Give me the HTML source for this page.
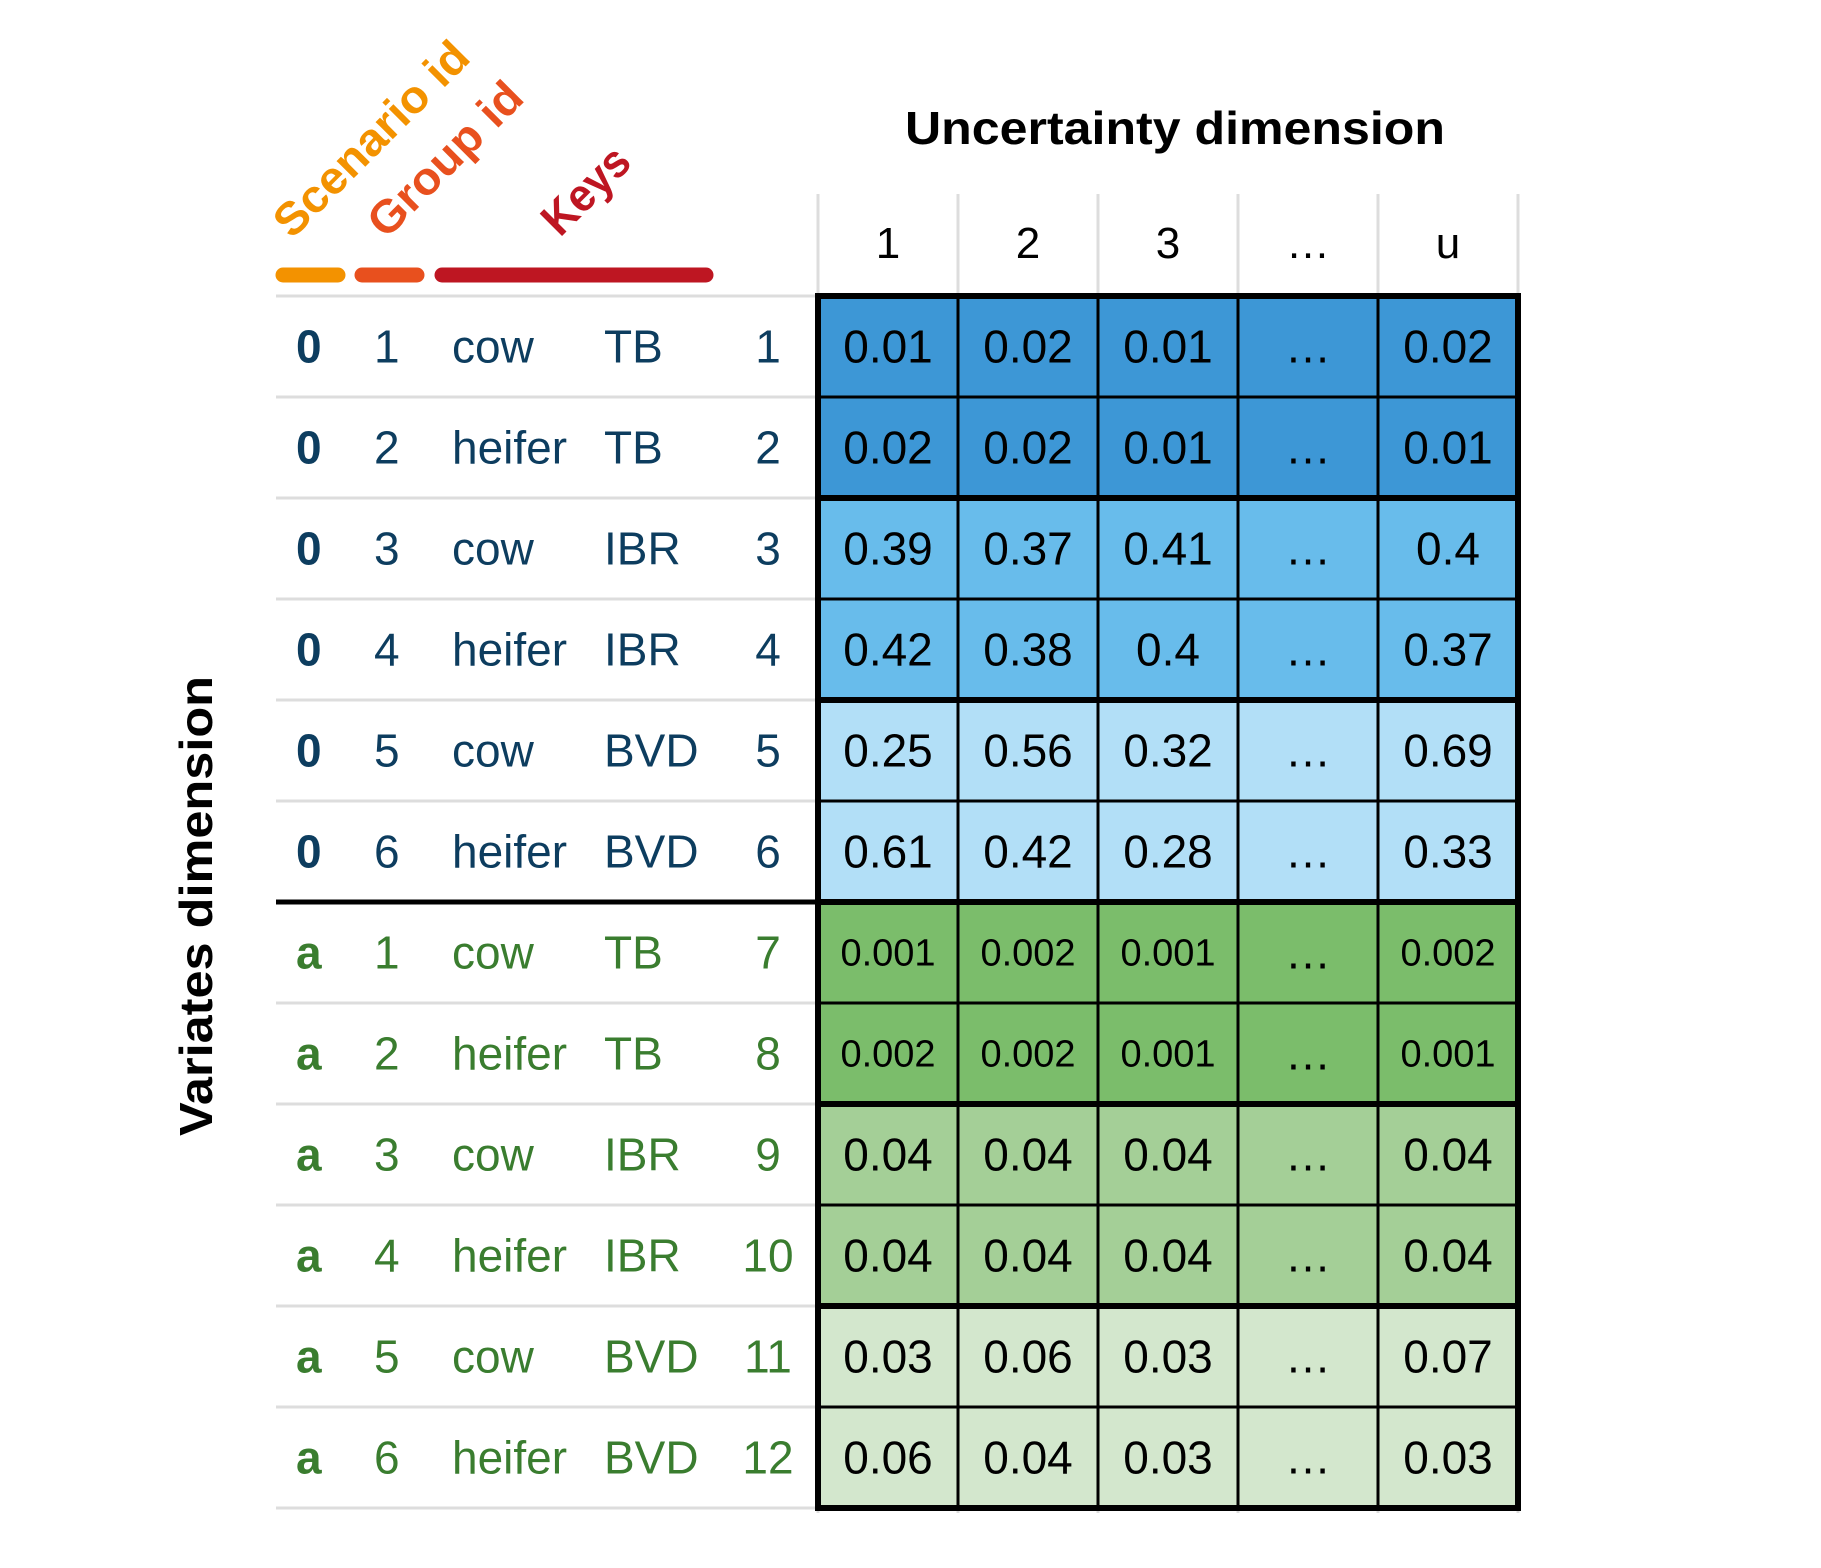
<!DOCTYPE html>
<html><head><meta charset="utf-8"><style>
html,body{margin:0;padding:0;background:#fff;}
svg{display:block;font-family:"Liberation Sans",sans-serif;}
</style></head><body>
<svg id="chart" width="1821" height="1568" viewBox="0 0 1821 1568" xmlns="http://www.w3.org/2000/svg">
<text x="1175" y="144" font-size="46" font-weight="bold" text-anchor="middle" textLength="540" lengthAdjust="spacingAndGlyphs">Uncertainty dimension</text>
<text transform="translate(212,906) rotate(-90)" font-size="46" font-weight="bold" text-anchor="middle" textLength="460" lengthAdjust="spacingAndGlyphs">Variates dimension</text>
<text transform="translate(292,240) rotate(-45)" font-size="46" font-weight="bold" fill="#f39200" textLength="255" lengthAdjust="spacingAndGlyphs">Scenario id</text>
<text transform="translate(386,240) rotate(-45)" font-size="46" font-weight="bold" fill="#e8501e" textLength="198" lengthAdjust="spacingAndGlyphs">Group id</text>
<text transform="translate(560,238) rotate(-45)" font-size="46" font-weight="bold" fill="#be1622" textLength="104" lengthAdjust="spacingAndGlyphs">Keys</text>
<line x1="283" y1="275" x2="338" y2="275" stroke="#f39200" stroke-width="15" stroke-linecap="round"/>
<line x1="362" y1="275" x2="417" y2="275" stroke="#e8501e" stroke-width="15" stroke-linecap="round"/>
<line x1="442" y1="275" x2="706" y2="275" stroke="#be1622" stroke-width="15" stroke-linecap="round"/>
<g id="layer"></g>
</svg>
<script>
const colLabels = ["1","2","3","…","u"];
const scenarios = ["0","0","0","0","0","0","a","a","a","a","a","a"];
const groupIds = ["1","2","3","4","5","6","1","2","3","4","5","6"];
const keyAnimal = ["cow","heifer","cow","heifer","cow","heifer","cow","heifer","cow","heifer","cow","heifer"];
const keyDisease = ["TB","TB","IBR","IBR","BVD","BVD","TB","TB","IBR","IBR","BVD","BVD"];
const rowIndex = ["1","2","3","4","5","6","7","8","9","10","11","12"];
const values = [
 ["0.01","0.02","0.01","…","0.02"],
 ["0.02","0.02","0.01","…","0.01"],
 ["0.39","0.37","0.41","…","0.4"],
 ["0.42","0.38","0.4","…","0.37"],
 ["0.25","0.56","0.32","…","0.69"],
 ["0.61","0.42","0.28","…","0.33"],
 ["0.001","0.002","0.001","…","0.002"],
 ["0.002","0.002","0.001","…","0.001"],
 ["0.04","0.04","0.04","…","0.04"],
 ["0.04","0.04","0.04","…","0.04"],
 ["0.03","0.06","0.03","…","0.07"],
 ["0.06","0.04","0.03","…","0.03"]
];
const groupFill = ["#3d97d6","#68bceb","#b2dff7","#7bbd6b","#a4cf97","#d3e7cd"];

const NS="http://www.w3.org/2000/svg";
const L=document.getElementById("layer");
const gx0=818, colW=140, gy0=296, rowH=101;
const xCol=j=>gx0+colW*j, yRow=i=>gy0+rowH*i;
const nR=values.length, nC=colLabels.length;
function mk(tag,a,parent){const e=document.createElementNS(NS,tag);for(const k in a)e.setAttribute(k,a[k]);(parent||L).appendChild(e);return e;}
function tx(s,a){const e=mk("text",a);e.textContent=s;return e;}

// header grey lines
for(let j=0;j<=nC;j++){
 const e=mk("line",{x1:xCol(j),x2:xCol(j),y1:194,y2:gy0+rowH*nR+5,stroke:"#dddddd","stroke-width":3});
 
 
}
colLabels.forEach((c,j)=>{
 const e=tx(c,{x:xCol(j)+colW/2,y:258,"font-size":44,"text-anchor":"middle"});
 
 
});
// row grey lines
for(let i=0;i<=nR;i++){
 const e=mk("line",{x1:276,x2:gx0,y1:yRow(i),y2:yRow(i),stroke:"#dddddd","stroke-width":3});
 
 
}
// cells
for(let i=0;i<nR;i++){
 for(let j=0;j<nC;j++){
  const r=mk("rect",{x:xCol(j),y:yRow(i),width:colW,height:rowH,fill:groupFill[Math.floor(i/2)],stroke:"#000","stroke-width":3});
  
  
  const v=values[i][j];
  const small=v.length>=5;
  const t=tx(v,{x:xCol(j)+colW/2,y:yRow(i)+rowH/2+(small?13:16),"font-size":small?38:46,"text-anchor":"middle"});
  
  
 }
 const col = scenarios[i]==="0" ? "#0d3d5f" : "#3a7d2f";
 const by=yRow(i)+rowH/2+16;
 const a=tx(scenarios[i],{x:296,y:by,"font-size":46,"font-weight":"bold",fill:col});
 
 
 const b=tx(groupIds[i],{x:374,y:by,"font-size":46,fill:col});
 
 
 const c=tx(keyAnimal[i],{x:452,y:by,"font-size":46,fill:col});
 
 
 const d=tx(keyDisease[i],{x:604,y:by,"font-size":46,fill:col});
 
 
 const e=tx(rowIndex[i],{x:768,y:by,"font-size":46,fill:col,"text-anchor":"middle"});
 
 
}
// thick group borders
for(let g=0;g<=nR;g+=2){
 const e=mk("line",{x1:gx0,x2:xCol(nC),y1:yRow(g),y2:yRow(g),stroke:"#000","stroke-width":6});
 
 
}
const ol=mk("rect",{x:gx0,y:gy0,width:colW*nC,height:rowH*nR,fill:"none",stroke:"#000","stroke-width":6});


const sep=mk("line",{x1:276,x2:gx0,y1:yRow(6),y2:yRow(6),stroke:"#000","stroke-width":5});


</script>
</body></html>
